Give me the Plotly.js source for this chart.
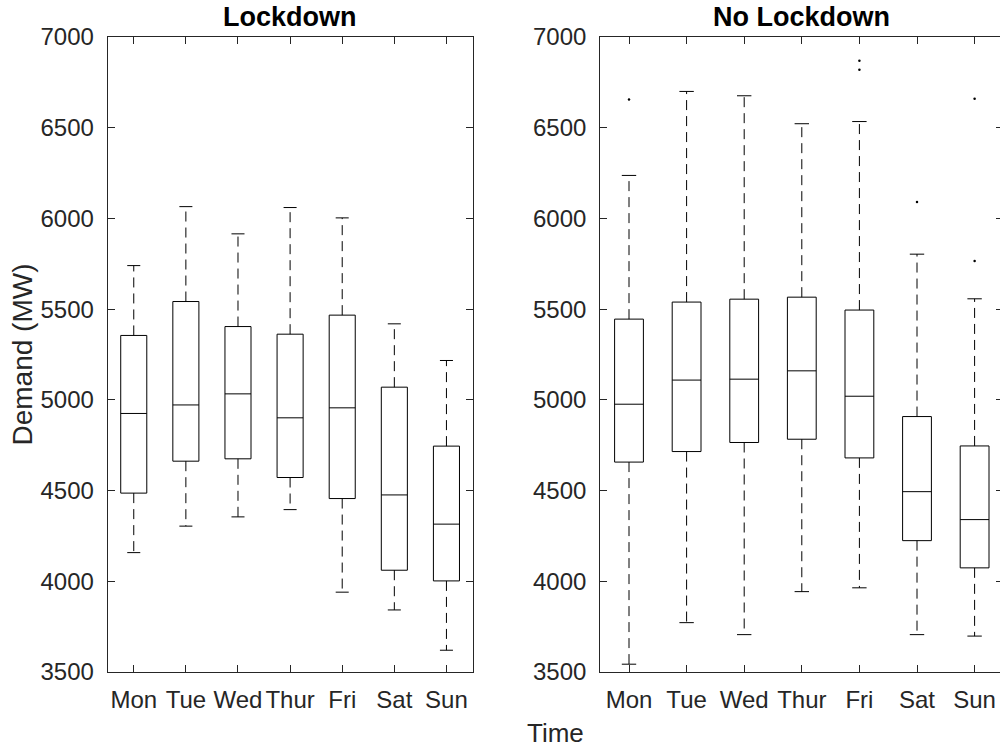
<!DOCTYPE html>
<html>
<head>
<meta charset="utf-8">
<script src="https://cdn.plot.ly/plotly-3.0.1.min.js"></script>
<style>
html, body { margin:0; padding:0; overflow:hidden; background:#fff; }
#chart { width:1004px; height:747px; }
</style>
</head>
<body>
<div id="chart"></div>
<script>
// ---- data ----
const days = ['Mon', 'Tue', 'Wed', 'Thur', 'Fri', 'Sat', 'Sun'];
const dayPos = [1, 2, 3, 4, 5, 6, 7];

// Lockdown
const ldUpper = [5740, 6065, 5915, 6060, 6003, 5419, 5217];
const ldQ3    = [5355, 5542, 5404, 5362, 5467, 5070, 4745];
const ldMed   = [4925, 4972, 5033, 4901, 4956, 4476, 4315];
const ldQ1    = [4486, 4662, 4675, 4572, 4456, 4061, 4002];
const ldLower = [4158, 4304, 4355, 4395, 3940, 3842, 3620];

// No Lockdown
const nlUpper = [6237, 6700, 6676, 6522, 6534, 5803, 5557];
const nlQ3    = [5445, 5539, 5555, 5566, 5495, 4908, 4746];
const nlMed   = [4976, 5109, 5114, 5160, 5020, 4494, 4340];
const nlQ1    = [4657, 4715, 4765, 4783, 4680, 4224, 4074];
const nlLower = [3543, 3772, 3706, 3943, 3964, 3706, 3698];
const nlOutPos = [1, 5, 5, 6, 7, 7];
const nlOutVal = [6656, 6869, 6819, 6090, 6659, 5766];

const yTicks = [3500, 4000, 4500, 5000, 5500, 6000, 6500, 7000];

// ---- style ----
const axisCol = '#262626';
const FONT = 'Liberation Sans, Arial, Helvetica, sans-serif';
const boxW = 0.5, capHalf = 0.125;

function panelTraces(q1, med, q3, lo, hi, xa, ya) {
  const box = {
    type: 'box', x: dayPos, q1: q1, median: med, q3: q3,
    lowerfence: q1, upperfence: q3,
    width: boxW, whiskerwidth: 0, boxpoints: false,
    line: {color: '#000', width: 1}, fillcolor: 'rgba(0,0,0,0)',
    xaxis: xa, yaxis: ya, showlegend: false, hoverinfo: 'skip'
  };
  const wx = [], wy = [], cx = [], cy = [];
  dayPos.forEach((p, i) => {
    wx.push(p, p, null, p, p, null);
    wy.push(q3[i], hi[i], null, q1[i], lo[i], null);
    cx.push(p - capHalf, p + capHalf, null, p - capHalf, p + capHalf, null);
    cy.push(hi[i], hi[i], null, lo[i], lo[i], null);
  });
  const whisk = {
    type: 'scatter', mode: 'lines', x: wx, y: wy,
    line: {color: '#000', width: 1, dash: '10px,6px'},
    xaxis: xa, yaxis: ya, showlegend: false, hoverinfo: 'skip'
  };
  const caps = {
    type: 'scatter', mode: 'lines', x: cx, y: cy,
    line: {color: '#000', width: 1},
    xaxis: xa, yaxis: ya, showlegend: false, hoverinfo: 'skip'
  };
  return [box, whisk, caps];
}

const traces = [].concat(
  panelTraces(ldQ1, ldMed, ldQ3, ldLower, ldUpper, 'x', 'y'),
  panelTraces(nlQ1, nlMed, nlQ3, nlLower, nlUpper, 'x2', 'y2'),
  [{
    type: 'scatter', mode: 'markers', x: nlOutPos, y: nlOutVal,
    marker: {color: '#000', size: 2.5, symbol: 'circle'},
    xaxis: 'x2', yaxis: 'y2', showlegend: false, hoverinfo: 'skip'
  }]
);

const W = 1004;
function xAx(d, anchor) {
  return {
    domain: d, anchor: anchor, range: [0.5, 7.5],
    tickmode: 'array', tickvals: dayPos, ticktext: days,
    ticks: 'inside', ticklen: 7, tickwidth: 1, tickcolor: axisCol,
    showline: true, linecolor: axisCol, linewidth: 1, mirror: 'ticks',
    showgrid: false, zeroline: false, ticklabelstandoff: 6,
    tickfont: {family: FONT, size: 24, color: axisCol}
  };
}
function yAx(anchor) {
  return {
    domain: [0, 1], anchor: anchor, range: [3500, 7000],
    tickmode: 'array', tickvals: yTicks, ticktext: yTicks.map(String),
    ticks: 'inside', ticklen: 7, tickwidth: 1, tickcolor: axisCol,
    showline: true, linecolor: axisCol, linewidth: 1, mirror: 'ticks',
    showgrid: false, zeroline: false, ticklabelstandoff: 8,
    tickfont: {family: FONT, size: 24, color: axisCol}
  };
}

const layout = {
  width: W, height: 747,
  margin: {l: 0, r: 0, t: 37, b: 75, pad: 0},
  paper_bgcolor: '#fff', plot_bgcolor: '#fff',
  showlegend: false,
  xaxis: xAx([107.7 / W, 472.5 / W], 'y'),
  yaxis: yAx('x'),
  xaxis2: xAx([600.2 / W, 1003.4 / W], 'y2'),
  yaxis2: yAx('x2'),
  annotations: [
    {text: '<b>Lockdown</b>', xref: 'x domain', yref: 'paper', x: 0.5, y: 1,
     xanchor: 'center', yanchor: 'bottom', yshift: 3, showarrow: false,
     font: {family: FONT, size: 27, color: '#000'}},
    {text: '<b>No Lockdown</b>', xref: 'x2 domain', yref: 'paper', x: 0.5, y: 1,
     xanchor: 'center', yanchor: 'bottom', yshift: 3, showarrow: false,
     font: {family: FONT, size: 27, color: '#000'}},
    {text: 'Time', xref: 'paper', yref: 'paper', x: 555.5 / W, y: -61 / 635,
     xanchor: 'center', yanchor: 'middle', showarrow: false,
     font: {family: FONT, size: 26, color: axisCol}},
    {text: 'Demand (MW)', xref: 'paper', yref: 'paper', x: 22 / W, y: 0.5,
     xanchor: 'center', yanchor: 'middle', textangle: -90, showarrow: false,
     font: {family: FONT, size: 28, color: axisCol}}
  ]
};

Plotly.newPlot('chart', traces, layout, {displayModeBar: false, staticPlot: true});
</script>
</body>
</html>
